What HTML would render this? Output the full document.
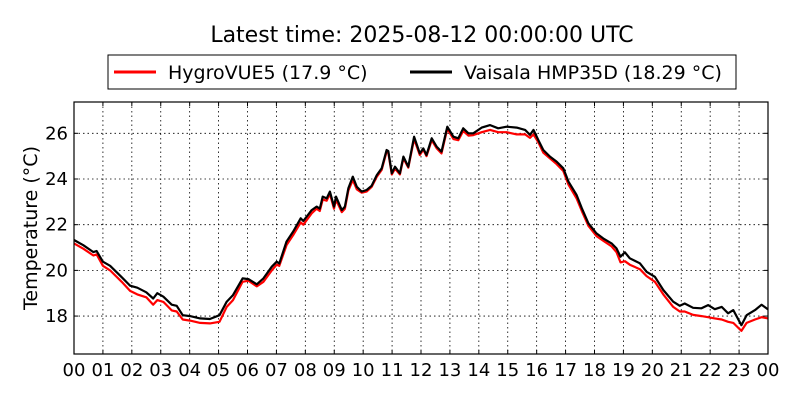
<!DOCTYPE html>
<html><head><meta charset="utf-8">
<style>
body{margin:0;background:#fff;width:800px;height:400px;overflow:hidden;font-family:"DejaVu Sans","Liberation Sans",sans-serif;}
svg text{font-family:"DejaVu Sans","Liberation Sans",sans-serif;}
</style></head>
<body>
<svg id="chart" width="800" height="400" viewBox="0 0 800 400">
<rect x="0" y="0" width="800" height="400" fill="#fff"/>
<text x="422" y="42" font-size="22" text-anchor="middle">Latest time: 2025-08-12 00:00:00 UTC</text>
<g>
<rect x="108" y="55" width="628" height="34" fill="#fff" stroke="#000" stroke-width="1"/>
<g>
<line x1="114" y1="72" x2="156" y2="72" stroke="#f00" stroke-width="3"/>
<text x="168" y="79" font-size="19">HygroVUE5 (17.9 °C)</text>
</g>
<g>
<line x1="410" y1="72" x2="452" y2="72" stroke="#000" stroke-width="3"/>
<text x="464" y="79" font-size="19">Vaisala HMP35D (18.29 °C)</text>
</g>
</g>
<g id="grid"></g>
<g id="ticks"></g>
<g id="series"></g>
<rect x="74" y="102" width="694" height="252" fill="none" stroke="#000" stroke-width="1.2"/>
<text transform="translate(37,228) rotate(-90)" font-size="19" text-anchor="middle">Temperature (°C)</text>
</svg>
<script>
const hours=[0,0.32,0.67,0.78,1.0,1.25,1.65,1.94,2.19,2.5,2.74,2.88,3.09,3.38,3.55,3.76,4.01,4.36,4.7,5.03,5.28,5.5,5.83,6.03,6.32,6.55,6.84,7.01,7.1,7.35,7.58,7.84,7.93,8.22,8.39,8.5,8.6,8.74,8.85,8.99,9.06,9.26,9.37,9.49,9.64,9.78,9.95,10.12,10.29,10.47,10.64,10.81,10.87,10.99,11.1,11.27,11.39,11.56,11.76,11.96,12.08,12.19,12.37,12.54,12.71,12.91,13.12,13.29,13.46,13.64,13.81,14.1,14.39,14.67,14.96,15.31,15.6,15.77,15.89,16.06,16.23,16.46,16.69,16.92,17.1,17.38,17.56,17.79,18.07,18.3,18.59,18.76,18.9,19.05,19.22,19.57,19.8,20.09,20.38,20.72,20.95,21.12,21.41,21.7,21.93,22.16,22.4,22.62,22.8,23.08,23.26,23.55,23.78,24.0];
const vaisala=[21.33,21.1,20.8,20.85,20.38,20.2,19.7,19.33,19.24,19.04,18.77,19.0,18.85,18.5,18.45,18.04,18.0,17.9,17.87,18.04,18.63,18.92,19.65,19.62,19.39,19.65,20.16,20.38,20.3,21.26,21.7,22.28,22.16,22.64,22.79,22.7,23.23,23.15,23.45,22.79,23.23,22.64,22.79,23.6,24.1,23.66,23.45,23.52,23.7,24.17,24.47,25.27,25.22,24.25,24.54,24.25,24.98,24.54,25.85,25.12,25.34,25.05,25.78,25.42,25.2,26.29,25.85,25.78,26.22,26.0,26.0,26.25,26.36,26.22,26.29,26.25,26.15,25.93,26.15,25.7,25.27,24.98,24.76,24.47,23.88,23.3,22.72,22.06,21.62,21.4,21.18,20.96,20.6,20.79,20.53,20.31,19.94,19.72,19.14,18.63,18.45,18.55,18.36,18.34,18.48,18.3,18.4,18.12,18.26,17.6,18.04,18.26,18.5,18.29];
const hygro=[21.18,20.95,20.65,20.7,20.2,20.0,19.5,19.1,18.95,18.82,18.5,18.7,18.62,18.25,18.2,17.85,17.8,17.7,17.68,17.75,18.4,18.7,19.5,19.55,19.3,19.5,20.0,20.25,20.2,21.1,21.55,22.1,22.0,22.5,22.7,22.6,23.1,23.05,23.35,22.7,23.1,22.55,22.7,23.5,23.95,23.55,23.4,23.45,23.65,24.1,24.4,25.2,25.15,24.2,24.45,24.2,24.9,24.5,25.75,25.05,25.28,25.0,25.7,25.35,25.12,26.2,25.75,25.7,26.1,25.9,25.92,26.05,26.15,26.05,26.05,25.95,25.95,25.8,25.95,25.6,25.15,24.9,24.65,24.35,23.75,23.15,22.6,21.95,21.5,21.3,21.05,20.8,20.35,20.4,20.25,20.05,19.75,19.5,18.95,18.4,18.2,18.2,18.05,18.0,17.95,17.9,17.85,17.75,17.7,17.35,17.7,17.85,17.95,17.9];
const xTickLabels=["00","01","02","03","04","05","06","07","08","09","10","11","12","13","14","15","16","17","18","19","20","21","22","23","00"];
const yTicks=[18,20,22,24,26];

const L=74,R=768,T=102,B=354,yMin=16.34,yMax=27.37;
const X=h=>L+(h/24)*(R-L);
const Y=v=>B-(v-yMin)/(yMax-yMin)*(B-T);
const NS="http://www.w3.org/2000/svg";
const grid=document.getElementById('grid'),ticks=document.getElementById('ticks'),series=document.getElementById('series');
function mk(tag,attrs,parent){const e=document.createElementNS(NS,tag);for(const k in attrs)e.setAttribute(k,attrs[k]);parent.appendChild(e);return e;}
xTickLabels.forEach((lab,i)=>{
  const x=X(i);
  if(i>0&&i<24){const g=mk('line',{x1:x,y1:T,x2:x,y2:B,stroke:'#000','stroke-width':0.8,'stroke-dasharray':'1.5,3'},grid);
  }
  mk('line',{x1:x,y1:B,x2:x,y2:B-4,stroke:'#000'},ticks);
  mk('line',{x1:x,y1:T,x2:x,y2:T+4,stroke:'#000'},ticks);
  const t=mk('text',{x:x,y:B+22,'font-size':18,'text-anchor':'middle'},ticks);t.textContent=lab;
  
});
yTicks.forEach(v=>{
  const y=Y(v);
  const g=mk('line',{x1:L,y1:y,x2:R,y2:y,stroke:'#000','stroke-width':0.8,'stroke-dasharray':'1.5,3'},grid);
  
  mk('line',{x1:L,y1:y,x2:L+4,y2:y,stroke:'#000'},ticks);
  mk('line',{x1:R,y1:y,x2:R-4,y2:y,stroke:'#000'},ticks);
  const t=mk('text',{x:L-6,y:y+6,'font-size':18,'text-anchor':'end'},ticks);t.textContent=v;
  
});
function line(vals,color,name){
  const d=vals.map((v,i)=>(i?'L':'M')+X(hours[i]).toFixed(1)+','+Y(v).toFixed(1)).join(' ');
  const p=mk('path',{d:d,fill:'none',stroke:color,'stroke-width':2.2,'stroke-linejoin':'round'},series);
  
}
line(hygro,'#f00','hygrovue5-line');
line(vaisala,'#000','hmp35d-line');
</script>
</body></html>
